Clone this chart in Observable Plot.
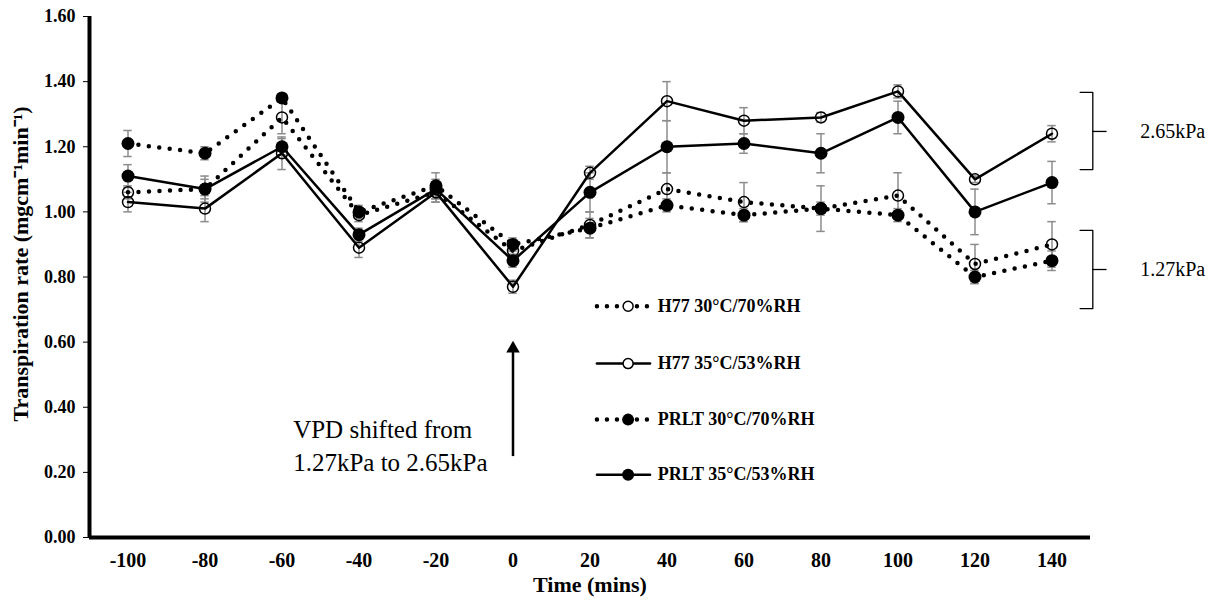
<!DOCTYPE html>
<html>
<head>
<meta charset="utf-8">
<script src="https://cdn.jsdelivr.net/npm/d3@7"></script>
<script src="https://cdn.jsdelivr.net/npm/@observablehq/plot@0.6"></script>
<style>
  html, body { margin: 0; padding: 0; background: #fff; }
  #chart svg { display: block; }
</style>
</head>
<body>
<div id="chart"></div>
<script>
// ---- data ----
const times = [-100, -80, -60, -40, -20, 0, 20, 40, 60, 80, 100, 120, 140];
const yTicks = [0, 0.2, 0.4, 0.6, 0.8, 1.0, 1.2, 1.4, 1.6];

const h77_30 = [1.06, 1.07, 1.29, 0.99, 1.06, 0.88, 0.96, 1.07, 1.03, 1.01, 1.05, 0.84, 0.90];
const h77_35 = [1.03, 1.01, 1.18, 0.89, 1.06, 0.77, 1.12, 1.34, 1.28, 1.29, 1.37, 1.10, 1.24];
const prlt_30 = [1.21, 1.18, 1.35, 1.00, 1.08, 0.90, 0.95, 1.02, 0.99, 1.01, 0.99, 0.80, 0.85];
const prlt_35 = [1.11, 1.07, 1.20, 0.93, 1.07, 0.85, 1.06, 1.20, 1.21, 1.18, 1.29, 1.00, 1.09];

const h77_30_err = [0.02, 0.03, 0.05, 0.02, 0.03, 0.02, 0.04, 0.05, 0.06, 0.07, 0.07, 0.06, 0.07];
const h77_35_err = [0.03, 0.04, 0.05, 0.03, 0.03, 0.02, 0.02, 0.06, 0.04, 0.015, 0.02, 0.01, 0.025];
const prlt_30_err = [0.04, 0.02, 0.01, 0.02, 0.04, 0.02, 0.03, 0.02, 0.02, 0.02, 0.02, 0.02, 0.03];
const prlt_35_err = [0.035, 0.04, 0.025, 0.02, 0.03, 0.02, 0.06, 0.08, 0.03, 0.06, 0.05, 0.07, 0.065];

const seriesNames = ["H77 30°C/70%RH", "H77 35°C/53%RH", "PRLT 30°C/70%RH", "PRLT 35°C/53%RH"];
const seriesValues = [h77_30, h77_35, prlt_30, prlt_35];
const seriesErrors = [h77_30_err, h77_35_err, prlt_30_err, prlt_35_err];
const seriesDotted = [true, false, true, false];
const seriesFilled = [false, false, true, true];

// annotation texts
const arrowText = "VPD shifted from\n1.27kPa to 2.65kPa";
const vpdLabels = ["2.65kPa", "1.27kPa"];
// bracket spans (data units): [top, middle, bottom]
const bracketSpans = [[1.367, 1.247, 1.130], [0.943, 0.823, 0.703]];
// legend rows (data units)
const legendRowsY = [0.710, 0.534, 0.362, 0.193];

// ---- build tables ----
const rows = seriesNames.flatMap((name, s) => times.map((t, i) => ({
  t, v: seriesValues[s][i], e: seriesErrors[s][i], name,
  dotted: seriesDotted[s], filled: seriesFilled[s]
})));

const legend = seriesNames.map((name, s) => ({
  name, y: legendRowsY[s], dotted: seriesDotted[s], filled: seriesFilled[s]
}));
const legendLines = legend.flatMap(d => [{...d, x: 21.8}, {...d, x: 35.6}]);

const bx0 = 147.3, bx1 = 150.6, bx2 = 154.3, textX = 162.9;
const bracketLines = bracketSpans.flatMap(([top, mid, bot], k) => [
  {k: "b" + k, x: bx0, y: top}, {k: "b" + k, x: bx1, y: top},
  {k: "b" + k, x: bx1, y: bot}, {k: "b" + k, x: bx0, y: bot}
]);
const bracketTicks = bracketSpans.map(([top, mid, bot]) => ({x1: bx1, x2: bx2, y: mid}));
const vpdText = bracketSpans.map(([top, mid, bot], k) => ({x: textX, y: mid, text: vpdLabels[k]}));

const capW = 1.1;

const chart = Plot.plot({
  width: 1229,
  height: 608,
  marginLeft: 89,
  marginRight: 139,
  marginTop: 16,
  marginBottom: 71,
  style: {fontFamily: "'Liberation Serif', 'Times New Roman', serif", fontSize: "18px", fontWeight: "bold", color: "#000", background: "#fff"},
  marks: [
    Plot.axisY({ticks: yTicks, tickSize: 6, tickPadding: 8, label: null, tickFormat: d => d.toFixed(2), fontSize: 18}),
    Plot.axisX({ticks: times, tickSize: 0, tickPadding: 15, label: null, tickFormat: d => String(d), fontSize: 20}),
    // error bars
    Plot.ruleX(rows, {x: "t", y1: d => d.v - d.e, y2: d => d.v + d.e, stroke: "#8c8c8c", strokeWidth: 1.5}),
    Plot.ruleY(rows, {y: d => d.v + d.e, x1: d => d.t - capW, x2: d => d.t + capW, stroke: "#8c8c8c", strokeWidth: 1.5}),
    Plot.ruleY(rows, {y: d => d.v - d.e, x1: d => d.t - capW, x2: d => d.t + capW, stroke: "#8c8c8c", strokeWidth: 1.5}),
    // lines
    Plot.line(rows.filter(d => d.dotted), {x: "t", y: "v", z: "name", stroke: "black", strokeWidth: 4.5, strokeDasharray: "0 10.5", strokeLinecap: "round"}),
    Plot.line(rows.filter(d => !d.dotted), {x: "t", y: "v", z: "name", stroke: "black", strokeWidth: 2.5}),
    // points
    Plot.dot(rows.filter(d => !d.filled), {x: "t", y: "v", r: 5.5, fill: "none", stroke: "black", strokeWidth: 1.5}),
    Plot.dot(rows.filter(d => d.filled), {x: "t", y: "v", r: 6.5, fill: "black", stroke: "none"}),
    // axes lines
    Plot.ruleY([0], {stroke: "black", strokeWidth: 4}),
    Plot.ruleX([-110], {y1: 0, y2: 1.6, stroke: "black", strokeWidth: 4}),
    // axis titles
    Plot.text([0], {frameAnchor: "bottom", text: () => "Time (mins)", dy: 54, fontSize: 22, fontWeight: "bold"}),
    Plot.text([0], {frameAnchor: "left", textAnchor: "middle", text: () => "Transpiration rate (mgcm⁻¹min⁻¹)", rotate: -90, dx: -69, dy: -13, fontSize: 22, fontWeight: "bold"}),
    // arrow annotation
    Plot.link([0], {x1: () => 0, x2: () => 0, y1: () => 0.25, y2: () => 0.575, stroke: "black", strokeWidth: 2.5}),
    Plot.dot([0], {x: () => 0, y: () => 0.58, symbol: "triangle", r: 5, fill: "black"}),
    Plot.text([0], {x: () => -57.1, y: () => 0.287, text: () => arrowText, textAnchor: "start", fontSize: 25, fontWeight: "normal", lineHeight: 1.32}),
    // brackets
    Plot.line(bracketLines, {x: "x", y: "y", z: "k", stroke: "black", strokeWidth: 1.3}),
    Plot.ruleY(bracketTicks, {x1: "x1", x2: "x2", y: "y", stroke: "black", strokeWidth: 1.3}),
    Plot.text(vpdText, {x: "x", y: "y", text: "text", textAnchor: "start", fontSize: 20, fontWeight: "normal"}),
    // legend
    Plot.line(legendLines.filter(d => d.dotted), {x: "x", y: "y", z: "name", stroke: "black", strokeWidth: 4.5, strokeDasharray: "0 10", strokeLinecap: "round"}),
    Plot.line(legendLines.filter(d => !d.dotted), {x: "x", y: "y", z: "name", stroke: "black", strokeWidth: 2.5}),
    Plot.dot(legend.filter(d => !d.filled), {x: () => 29.9, y: "y", r: 5, fill: "white", stroke: "black", strokeWidth: 1.5}),
    Plot.dot(legend.filter(d => d.filled), {x: () => 29.9, y: "y", r: 6, fill: "black"}),
    Plot.text(legend, {x: () => 37.6, y: "y", text: "name", textAnchor: "start", fontSize: 18, fontWeight: "bold"})
  ],
  x: {domain: [-110, 150]},
  y: {domain: [0, 1.6]}
});
document.getElementById("chart").appendChild(chart);
</script>
</body>
</html>
